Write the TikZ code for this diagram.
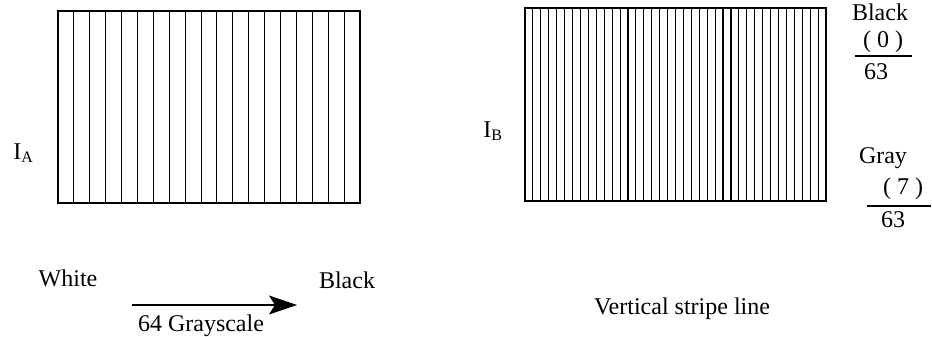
\documentclass[tikz,border=0pt]{standalone}
\usepackage{fontspec}
\setmainfont{Liberation Serif}
\usetikzlibrary{arrows.meta,positioning}
\tikzstyle{stripe}=[draw, line width=0.55pt]
\tikzstyle{txt}=[inner sep=0pt, anchor=base, font=\fontsize{12}{14}\selectfont]
\tikzstyle{bar}=[draw, line width=0.6pt]
\tikzstyle{grayarrow}=[draw, line width=0.6pt, -{Stealth[length=14pt, width=9.5pt, inset=3pt]}]

\begin{document}
\begin{tikzpicture}[x=0.5pt, y=-0.5pt]
    \useasboundingbox (0,0) rectangle (932,337);
    % Left block: 19 wide stripes
    \draw[stripe] (58,11) rectangle (360,203);
    \foreach \i in {1,...,18}
        \draw[stripe] ({58+\i*302/19},11) -- ({58+\i*302/19},203);
    % Right block: 38 narrow stripes
    \draw[stripe] (525,8) rectangle (826,201);
    \foreach \i in {1,...,37}
        \draw[stripe] ({525+\i*301/38},8) -- ({525+\i*301/38},201);

    % Image names
    \node[txt, anchor=base west] (IA) at (13,159) {I\textsubscript{A}};
    \node[txt, anchor=base west] (IB) at (483,137) {I\textsubscript{B}};

    % Stripe values
    \node[txt] (black) at (880,20) {Black};
    \node[txt] (zero) at (883,47) {( 0 )};
    \node[txt] (den0) at (876,79) {63};
    \coordinate (b0) at (855,56);
    \coordinate (e0) at (912,56);
    \path[bar] (b0) -- (e0);

    \node[txt] (gray) at (883,163) {Gray};
    \node[txt] (seven) at (903,194) {( 7 )};
    \node[txt] (den7) at (893,227) {63};
    \coordinate (b7) at (867,206);
    \coordinate (e7) at (931,206);
    \path[bar] (b7) -- (e7);

    % Grayscale direction
    \node[txt] (white) at (68,286) {White};
    \node[txt] (blackend) at (347,288) {Black};
    \coordinate (from) at (132,305);
    \coordinate (to) at (297,305);
    \path[grayarrow] (from) -- (to);
    \node[txt] (scale) at (201,331) {64 Grayscale};

    \node[txt] (caption) at (682,314) {Vertical stripe line};
\end{tikzpicture}
\end{document}
